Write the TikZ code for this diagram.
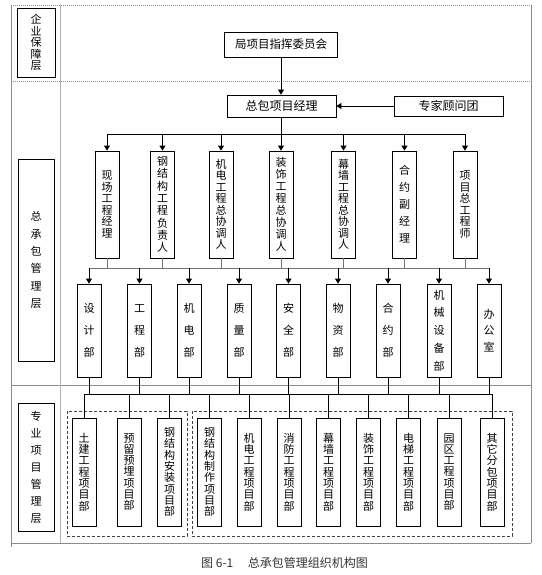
\documentclass[tikz,border=0pt]{standalone}
\usepackage{fontspec}
\setmainfont{Noto Sans CJK SC}
\usetikzlibrary{arrows.meta}
\begin{document}
\begin{tikzpicture}[x=1pt,y=-1pt,
  box/.style={draw=black, line width=0.8pt, inner sep=0pt, align=center, font=\fontsize{11}{11.5}\selectfont},
  pitch/.style={font=\fontsize{11}{#1}\selectfont},
  vb/.style={box, minimum width=24pt},
  rtwo/.style={vb, minimum height=107pt},
  rthree/.style={vb, minimum height=93pt},
  rfour/.style={vb, minimum height=108pt},
  lbl/.style={box, minimum width=36pt},
  arr/.style={-{Triangle[length=5pt,width=6pt]}, line width=0.8pt},
  ln/.style={line width=0.8pt},
  gln/.style={line width=0.8pt, draw=black!55},
  frm/.style={draw=black!45, line width=0.8pt},
  dfrm/.style={draw=black!45, line width=0.8pt, dash pattern=on 1pt off 1pt},
  grp/.style={draw=black!75, line width=0.8pt, dash pattern=on 3pt off 2pt}
]
\useasboundingbox (0,0) rectangle (541,575);

% frame
\draw[dfrm] (11,5) -- (531,5);
\draw[dfrm] (11,81) -- (531,81);
\draw[frm] (11,385) -- (531,385);
\draw[frm] (11,543) -- (531,543);
\draw[frm] (11,5) -- (11,547);
\draw[frm] (531,5) -- (531,543);
\draw[draw=black!30, line width=0.8pt] (60,5) -- (60,543);

% layer labels
\node[lbl, minimum width=38pt, minimum height=69pt, pitch=11.4] (L1) at (36,42.5) {企\\业\\保\\障\\层};
\node[lbl, minimum height=202pt, pitch=17.4] (L2) at (36,260) {总\\承\\包\\管\\理\\层};
\node[lbl, minimum height=128pt, pitch=17] (L3) at (36,467) {专\\业\\项\\目\\管\\理\\层};

% top nodes
\node[box, minimum width=113pt, minimum height=25pt, font=\fontsize{11.5}{12}\selectfont] (jxm) at (281,44.5) {局项目指挥委员会};
\node[box, minimum width=109pt, minimum height=22pt, font=\fontsize{12}{12}\selectfont] (zb) at (281.5,106) {总包项目经理};
\node[box, minimum width=109pt, minimum height=20pt, font=\fontsize{12}{12}\selectfont] (zj) at (448.5,106) {专家顾问团};

% row 2
\node[rtwo, pitch=11.5] (r2a) at (107,204.5) {现\\场\\工\\程\\经\\理};
\node[rtwo, pitch=12.3] (r2b) at (162.5,204.5) {钢\\结\\构\\工\\程\\负\\责\\人};
\node[rtwo, pitch=11.5] (r2c) at (221,204.5) {机\\电\\工\\程\\总\\协\\调\\人};
\node[rtwo, pitch=12] (r2d) at (281,204.5) {装\\饰\\工\\程\\总\\协\\调\\人};
\node[rtwo, pitch=11.5] (r2e) at (343.5,204.5) {幕\\墙\\工\\程\\总\\协\\调\\人};
\node[rtwo, pitch=17] (r2f) at (404.5,204.5) {合\\约\\副\\经\\理};
\node[rtwo, pitch=11.5] (r2g) at (465,204.5) {项\\目\\总\\工\\程\\师};

% row 3
\node[rthree, pitch=22] (r3a) at (89,330.5) {设\\计\\部};
\node[rthree, pitch=22] (r3b) at (139.5,330.5) {工\\程\\部};
\node[rthree, pitch=22] (r3c) at (189,330.5) {机\\电\\部};
\node[rthree, pitch=22] (r3d) at (239,330.5) {质\\量\\部};
\node[rthree, pitch=22] (r3e) at (288.5,330.5) {安\\全\\部};
\node[rthree, pitch=22] (r3f) at (338,330.5) {物\\资\\部};
\node[rthree, pitch=22] (r3g) at (388,330.5) {合\\约\\部};
\node[rthree, pitch=17.7] (r3h) at (439,330.5) {机\\械\\设\\备\\部};
\node[rthree, pitch=16.5] (r3i) at (489,330.5) {办\\公\\室};

% row 4
\node[rfour, pitch=11.3] (r4a) at (84,472) {土\\建\\工\\程\\项\\目\\部};
\node[rfour, pitch=11.3] (r4b) at (129,472) {预\\留\\预\\埋\\项\\目\\部};
\node[rfour, pitch=11.3] (r4c) at (169.5,472) {钢\\结\\构\\安\\装\\项\\目\\部};
\node[rfour, pitch=11.3] (r4d) at (209.5,472) {钢\\结\\构\\制\\作\\项\\目\\部};
\node[rfour, pitch=11.3] (r4e) at (249,472) {机\\电\\工\\程\\项\\目\\部};
\node[rfour, pitch=11.3] (r4f) at (289,472) {消\\防\\工\\程\\项\\目\\部};
\node[rfour, pitch=11.3] (r4g) at (328.5,472) {幕\\墙\\工\\程\\项\\目\\部};
\node[rfour, pitch=11.3] (r4h) at (368.5,472) {装\\饰\\工\\程\\项\\目\\部};
\node[rfour, pitch=11.3] (r4i) at (408.5,472) {电\\梯\\工\\程\\项\\目\\部};
\node[rfour, pitch=11.3] (r4j) at (449,472) {园\\区\\工\\程\\项\\目\\部};
\node[rfour, pitch=11.3] (r4k) at (492,472) {其\\它\\分\\包\\项\\目\\部};

% dashed groups
\draw[grp] (67,411) rectangle (187,536);
\draw[grp] (192,411) rectangle (512,536);

% connectors
\coordinate (b1) at (0,134);
\coordinate (b2) at (0,268);
\coordinate (b3) at (0,394);

\draw[arr] (jxm.south) -- (jxm.south |- zb.north);
\draw[arr] (zj.west) -- (zb.east);
\draw[ln] (zb.south) -- (zb.south |- b1);
\draw[ln] (r2a.north |- b1) -- (r2g.north |- b1);
\foreach \n in {r2a,r2b,r2c,r2d,r2e,r2f,r2g}
  \draw[arr] (\n.north |- b1) -- (\n.north);

\foreach \n in {r2a,r2b,r2c,r2d,r2e,r2f,r2g}
  \draw[gln] (\n.south) -- (\n.south |- b2);
\draw[gln] (r3a.north |- b2) -- (r3i.north |- b2);
\foreach \n in {r3a,r3b,r3c,r3d,r3e,r3f,r3g,r3h,r3i}
  \draw[arr] (\n.north |- b2) -- (\n.north);

\foreach \n in {r3a,r3b,r3c,r3d,r3e,r3f,r3g,r3h,r3i}
  \draw[ln] (\n.south) -- (\n.south |- b3);
\draw[ln] (r4a.north |- b3) -- (r4k.north |- b3);
\foreach \n in {r4a,r4b,r4c,r4d,r4e,r4f,r4g,r4h,r4i,r4j,r4k}
  \draw[ln] (\n.north |- b3) -- (\n.north);

% caption
\node[inner sep=0pt, text=black!80, font=\fontsize{12}{12}\selectfont] (cap) at (284.5,563) {图 6-1\hspace{1.2em}总承包管理组织机构图};
\end{tikzpicture}
\end{document}
